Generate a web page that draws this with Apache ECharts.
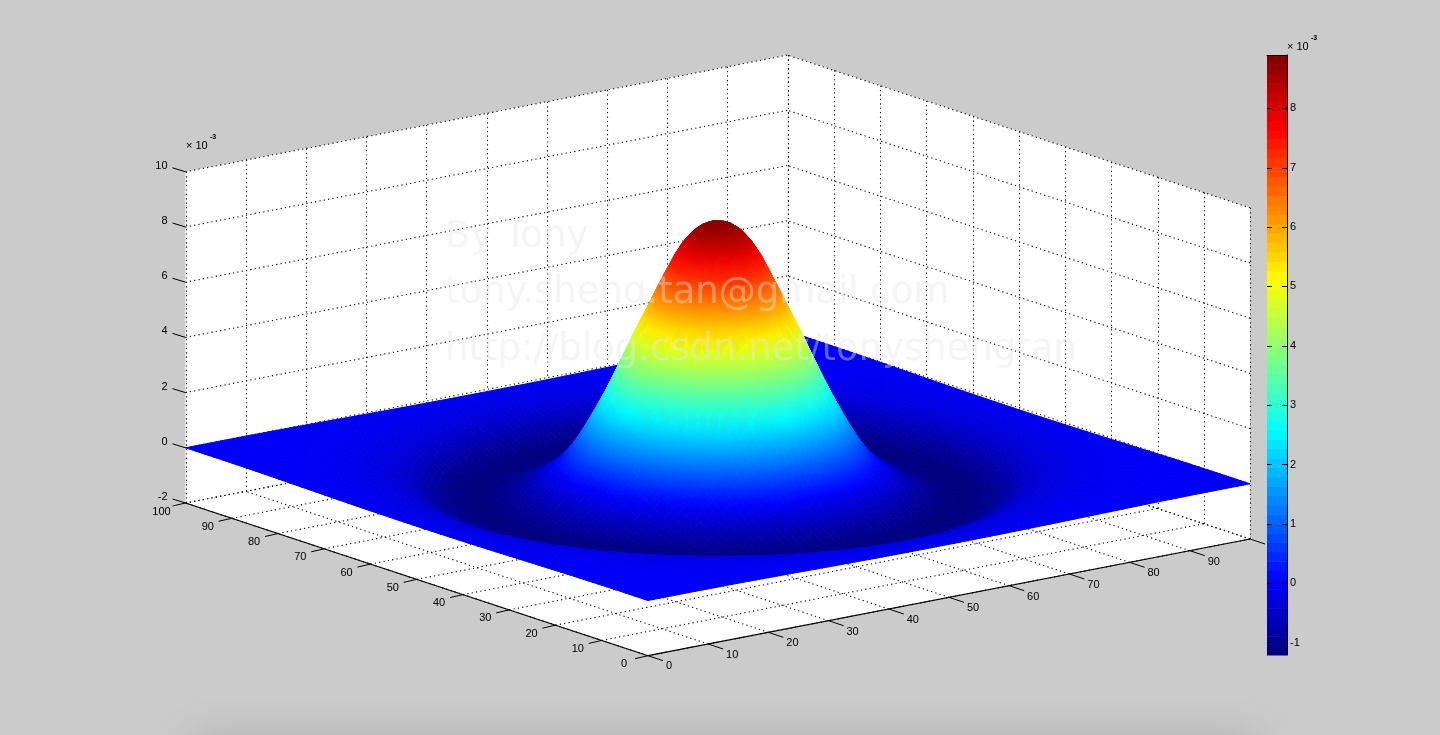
<!DOCTYPE html>
<html>
<head>
<meta charset="utf-8">
<style>html,body{margin:0;padding:0;background:#cbcbcb}#c{width:1440px;height:735px}</style>
<script src="https://cdn.jsdelivr.net/npm/echarts@6/dist/echarts.min.js"></script>
</head>
<body>
<div id="c"></div>
<script>
// ---- values (z in units of 1e-3) ----
var radiusSamples = [0,1,2,3,4,5,6,7,8,9,10,11,12,13,14,15,16,17,18,19,20,21,22,23,24,25,26,27,28,29,30,31,32,33,34,35,36,37,38,39,40,41,42,43,44,45,46,47,48,49,50,55,60,65,71];
var heightSamples = [8.85,8.82,8.72,8.55,8.28,7.92,7.47,6.95,6.42,5.87,5.33,4.80,4.22,3.65,3.08,2.55,2.05,1.58,1.12,0.72,0.36,0.08,-0.15,-0.36,-0.55,-0.71,-0.85,-0.97,-1.08,-1.14,-1.18,-1.20,-1.21,-1.20,-1.17,-1.12,-1.05,-0.95,-0.82,-0.68,-0.55,-0.44,-0.36,-0.30,-0.25,-0.21,-0.17,-0.14,-0.12,-0.10,-0.08,-0.04,-0.01,0,0];
var xTicks = [0,10,20,30,40,50,60,70,80,90,100];
var yTicks = [0,10,20,30,40,50,60,70,80,90,100];
var zTicks = [-2,0,2,4,6,8,10];
var xTickLabels = ['0','10','20','30','40','50','60','70','80','90'];
var yTickLabels = ['0','10','20','30','40','50','60','70','80','90','100'];
var zTickLabels = ['-2','0','2','4','6','8','10'];
var colorbarTicks = [-1,0,1,2,3,4,5,6,7,8];
var colorMin = -1.21, colorMax = 8.9, colorLevels = 64;
var exponentBase = '× 10', exponentPower = '-3';
var watermark = ['By Tony','tony.sheng.tan@gmail.com','http://blog.csdn.net/tonyshengtan'];

// ---- view: orthographic camera of the 3-D box ----
var O = [648,655.7], EX = [6.02,-1.167], EY = [-4.625,-1.527], EZ = [0,-27.6], Z0 = -2;
function project(x,y,z){ return [O[0]+EX[0]*x+EY[0]*y, O[1]+EX[1]*x+EY[1]*y+EZ[1]*(z-Z0)]; }
var FONT = '"Liberation Sans", Arial, sans-serif';

function clamp01(v){ return v<0?0:(v>1?1:v); }
function jetAt(t){
  return 'rgb('+Math.round(255*clamp01(1.5-Math.abs(4*t-3)))+','+Math.round(255*clamp01(1.5-Math.abs(4*t-2)))+','+Math.round(255*clamp01(1.5-Math.abs(4*t-1)))+')';
}
function jetLevel(i){ return jetAt((i+0.5)/colorLevels); }
function colorOf(z){ return jetAt(clamp01((z-colorMin)/(colorMax-colorMin))); }
function heightAt(x,y){
  var r=Math.sqrt((x-50)*(x-50)+(y-50)*(y-50)), i=1;
  while(i<radiusSamples.length-1 && radiusSamples[i]<r) i++;
  var a=radiusSamples[i-1], b=radiusSamples[i], f=clamp01((r-a)/(b-a));
  return heightSamples[i-1]+(heightSamples[i]-heightSamples[i-1])*f;
}

// surface cells, far to near
var STEP=1, cells=[];
for(var cx=0;cx<100;cx+=STEP) for(var cy=0;cy<100;cy+=STEP) cells.push([cx,cy]);
cells.sort(function(a,b){ return (b[0]*4.625+b[1]*6.02)-(a[0]*4.625+a[1]*6.02); });

function px(api,p){ return api.coord(p); }

var wallData=[[0],[1],[2]];
var wallDefs=[
  [[0,0,-2],[100,0,-2],[100,100,-2],[0,100,-2]],
  [[0,100,-2],[100,100,-2],[100,100,10],[0,100,10]],
  [[100,0,-2],[100,100,-2],[100,100,10],[100,0,10]]
];
var gridSegs=[];
xTicks.forEach(function(v){
  gridSegs.push([v,0,-2,v,100,-2]);
  gridSegs.push([v,100,-2,v,100,10]);
});
yTicks.forEach(function(v){
  gridSegs.push([0,v,-2,100,v,-2]);
  gridSegs.push([100,v,-2,100,v,10]);
});
zTicks.forEach(function(v){
  gridSegs.push([0,100,v,100,100,v]);
  gridSegs.push([100,0,v,100,100,v]);
});
var axisSegs=[[0,0,-2,100,0,-2],[0,0,-2,0,100,-2]];

var tickItems=[];
xTicks.forEach(function(v){ tickItems.push([v,0,-2,15,5]); });
yTicks.forEach(function(v){ tickItems.push([0,v,-2,-13,3]); });
zTicks.forEach(function(v){ tickItems.push([0,100,v,-13,-4]); });

var labelItems=[];
xTickLabels.forEach(function(s,i){ labelItems.push([xTicks[i],0,-2,i?24:21,i?11:10,s,'center']); });
yTickLabels.forEach(function(s,i){ labelItems.push([0,yTicks[i],-2,-24,8.5,s,'center']); });
zTickLabels.forEach(function(s,i){ labelItems.push([0,100,zTicks[i],-18,-6,s,'right']); });

function cellPaint(pts,zz){
  var hi=0,lo=0;
  for(var k=1;k<4;k++){ if(zz[k]>zz[hi]) hi=k; if(zz[k]<zz[lo]) lo=k; }
  if(zz[hi]-zz[lo]<0.01) return colorOf(zz[0]);
  var c0=colorOf(zz[lo]),c1=colorOf(zz[hi]);
  return {type:'linear',global:true,x:pts[lo][0],y:pts[lo][1],x2:pts[hi][0],y2:pts[hi][1],
          colorStops:[{offset:0,color:c0},{offset:1,color:c1}]};
}

var series=[
  {type:'custom',name:'walls',coordinateSystem:'cartesian2d',silent:true,clip:false,animation:false,z:1,data:wallData,
   renderItem:function(p,api){
     var d=wallDefs[api.value(0)];
     return {type:'polygon',shape:{points:d.map(function(q){return px(api,project(q[0],q[1],q[2]));})},style:{fill:'#fff'}};
   },encode:{x:0,y:0}},
  {type:'custom',name:'grid',coordinateSystem:'cartesian2d',silent:true,clip:false,animation:false,z:2,data:gridSegs,
   renderItem:function(p,api){
     var a=px(api,project(api.value(0),api.value(1),api.value(2))),b=px(api,project(api.value(3),api.value(4),api.value(5)));
     if(Math.abs(a[0]-b[0])<0.01){ a[0]=b[0]=Math.round(a[0])+0.5; }
     return {type:'line',shape:{x1:a[0],y1:a[1],x2:b[0],y2:b[1]},style:{stroke:'#000',lineWidth:1.1,lineDash:[1.2,3.2]}};
   },encode:{x:0,y:1}},
  {type:'custom',name:'surface',coordinateSystem:'cartesian2d',silent:true,clip:false,animation:false,progressive:0,z:3,data:cells,
   renderItem:function(p,api){
     var x=api.value(0),y=api.value(1),s=STEP;
     var zz=[heightAt(x,y),heightAt(x+s,y),heightAt(x+s,y+s),heightAt(x,y+s)];
     var pts=[px(api,project(x,y,zz[0])),px(api,project(x+s,y,zz[1])),px(api,project(x+s,y+s,zz[2])),px(api,project(x,y+s,zz[3]))];
     var c=cellPaint(pts,zz);
     return {type:'polygon',z2:p.dataIndex,shape:{points:pts},style:{fill:c,stroke:c,lineWidth:1}};
   },encode:{x:0,y:1}},
  {type:'custom',name:'axes',coordinateSystem:'cartesian2d',silent:true,clip:false,animation:false,z:4,data:axisSegs,
   renderItem:function(p,api){
     var a=px(api,project(api.value(0),api.value(1),api.value(2))),b=px(api,project(api.value(3),api.value(4),api.value(5)));
     return {type:'line',shape:{x1:a[0],y1:a[1],x2:b[0],y2:b[1]},style:{stroke:'#000',lineWidth:1.2}};
   },encode:{x:0,y:1}},
  {type:'custom',name:'ticks',coordinateSystem:'cartesian2d',silent:true,clip:false,animation:false,z:4,data:tickItems,
   renderItem:function(p,api){
     var a=px(api,project(api.value(0),api.value(1),api.value(2)));
     return {type:'line',shape:{x1:a[0],y1:a[1],x2:a[0]+api.value(3),y2:a[1]+api.value(4)},style:{stroke:'#000',lineWidth:1}};
   },encode:{x:0,y:1}},
  {type:'custom',name:'labels',coordinateSystem:'cartesian2d',silent:true,clip:false,animation:false,z:5,data:labelItems,
   dimensions:['x','y','z','dx','dy',{name:'t',type:'ordinal'},{name:'al',type:'ordinal'}],
   renderItem:function(p,api){
     var it=labelItems[p.dataIndex];
     var a=px(api,project(it[0],it[1],it[2]));
     return {type:'text',x:a[0]+it[3],y:a[1]+it[4],style:{text:it[5],fill:'#000',font:'11px '+FONT,align:it[6],verticalAlign:'middle'}};
   },encode:{x:0,y:1}},
  {type:'custom',name:'colorbar',coordinateSystem:'cartesian2d',xAxisIndex:1,yAxisIndex:1,silent:true,clip:false,animation:false,z:3,
   data:Array.from({length:colorLevels},function(_,i){return [0,i];}),
   renderItem:function(p,api){
     var i=api.value(1),d=(colorMax-colorMin)/colorLevels;
     var a=api.coord([0,colorMin+i*d]),b=api.coord([1,colorMin+(i+1)*d]);
     return {type:'rect',shape:{x:a[0],y:b[1],width:b[0]-a[0],height:a[1]-b[1]+0.5},style:{fill:jetLevel(i)}};
   },encode:{x:0,y:1}}
];

var wm=[237,293,350].map(function(y,i){
  return {type:'text',x:445,y:y,z:100,silent:true,style:{text:watermark[i],fill:'rgba(232,232,232,0.42)',font:'37px "DejaVu Sans"',verticalAlign:'middle'}};
});
function expo(x,y,x2,y2){
  return [{type:'text',x:x,y:y,z:100,silent:true,style:{text:exponentBase,fill:'#000',font:'11px '+FONT,verticalAlign:'middle'}},
          {type:'text',x:x2,y:y2,z:100,silent:true,style:{text:exponentPower,fill:'#000',font:'bold 7px '+FONT,verticalAlign:'middle'}}];
}
var shade={type:'rect',z:0,silent:true,shape:{x:190,y:742,width:1070,height:30},
  style:{fill:'rgba(0,0,0,0.5)',shadowBlur:45,shadowColor:'rgba(0,0,0,0.4)'}};

var chart=echarts.init(document.getElementById('c'),null,{renderer:'canvas',width:1440,height:735});
chart.setOption({
  animation:false,
  backgroundColor:'#cbcbcb',
  grid:[{left:0,top:0,width:1440,height:735},{left:1267,top:55,width:20,height:600}],
  xAxis:[
    {gridIndex:0,type:'value',min:0,max:1440,show:false},
    {gridIndex:1,type:'value',min:0,max:1,position:'top',z:6,axisLine:{show:true,onZero:false,lineStyle:{color:'#000',width:1}},axisTick:{show:false},axisLabel:{show:false},splitLine:{show:false}}
  ],
  yAxis:[
    {gridIndex:0,type:'value',min:0,max:735,inverse:true,show:false},
    {gridIndex:1,type:'value',min:colorMin,max:colorMax,position:'right',z:6,
     axisLine:{show:true,onZero:false,lineStyle:{color:'#000',width:1}},
     axisTick:{show:true,inside:true,length:5,customValues:colorbarTicks,lineStyle:{color:'#000',width:1}},
     axisLabel:{show:true,inside:false,margin:3,color:'#000',fontSize:11,fontFamily:'Liberation Sans',customValues:colorbarTicks},
     splitLine:{show:false}},
    {gridIndex:1,type:'value',min:colorMin,max:colorMax,position:'left',z:6,
     axisLine:{show:false,onZero:false},
     axisTick:{show:true,inside:true,length:5,customValues:colorbarTicks,lineStyle:{color:'#000',width:1}},
     axisLabel:{show:false},splitLine:{show:false}}
  ],
  series:series,
  graphic:{elements:[shade].concat(expo(186,146,210,137),expo(1287,47,1311,38),wm)}
});
</script>
</body>
</html>
